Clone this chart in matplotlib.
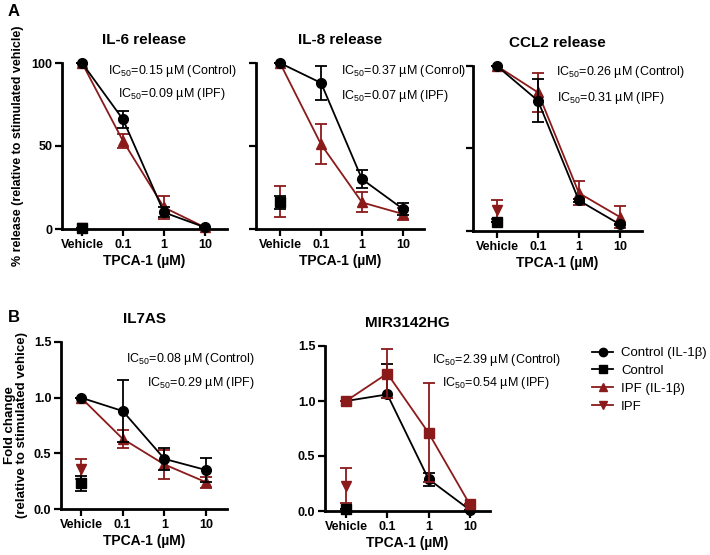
import matplotlib
matplotlib.use("Agg")
import matplotlib.pyplot as plt
from matplotlib.lines import Line2D

plt.rcParams['font.family'] = ['Liberation Sans', 'DejaVu Sans']
plt.rcParams['mathtext.fontset'] = 'custom'
plt.rcParams['mathtext.rm'] = 'Liberation Sans'
plt.rcParams['mathtext.it'] = 'Liberation Sans:italic'
plt.rcParams['mathtext.bf'] = 'Liberation Sans:bold'

RED = '#8b1a1a'

doses = ['Vehicle', '0.1', '1', '10']

# panel A: cytokine release (% of stimulated vehicle)
il6_ctrl = [100, 66, 10, 1]
il6_ctrl_err = [0, 5, 3, 0.5]
il6_ipf = [100, 53, 13, 1]
il6_ipf_err = [0, 4, 7, 0.5]
il6_ctrl_unstim, il6_ctrl_unstim_err = 0.5, 0
il6_ipf_unstim, il6_ipf_unstim_err = 0.5, 0

il8_ctrl = [100, 88, 30, 12]
il8_ctrl_err = [0, 10, 5.5, 3.5]
il8_ipf = [100, 51, 16, 9]
il8_ipf_err = [0, 12, 6, 3.5]
il8_ctrl_unstim, il8_ctrl_unstim_err = 16, 4
il8_ipf_unstim, il8_ipf_unstim_err = 16.5, 9.5

ccl2_ctrl = [100, 79, 18.5, 4]
ccl2_ctrl_err = [0, 13, 1, 0.5]
ccl2_ipf = [100, 84, 23, 8.5]
ccl2_ipf_err = [0, 12, 7.5, 6.5]
ccl2_ctrl_unstim, ccl2_ctrl_unstim_err = 5.5, 0
ccl2_ipf_unstim, ccl2_ipf_unstim_err = 13, 6

# panel B: lncRNA fold change
il7as_ctrl = [1.0, 0.88, 0.45, 0.35]
il7as_ctrl_err = [0, 0.28, 0.1, 0.11]
il7as_ipf = [1.0, 0.63, 0.40, 0.24]
il7as_ipf_err = [0, 0.08, 0.13, 0.05]
il7as_ctrl_unstim, il7as_ctrl_unstim_err = 0.23, 0.07
il7as_ipf_unstim, il7as_ipf_unstim_err = 0.36, 0.09

mir_ctrl = [1.0, 1.06, 0.29, 0.01]
mir_ctrl_err = [[0, 0.03, 0.06, 0], [0, 0.28, 0.06, 0]]
mir_ipf = [1.0, 1.25, 0.71, 0.06]
mir_ipf_err = [0, 0.22, 0.45, 0]
mir_ctrl_unstim, mir_ctrl_unstim_err = 0.015, 0
mir_ipf_unstim, mir_ipf_unstim_err = 0.23, 0.16

W, H = 710, 555
fig = plt.figure(figsize=(W / 100, H / 100), dpi=100)


def px_axes(left, top, right, bottom):
    return fig.add_axes([left / W, 1 - bottom / H, (right - left) / W, (bottom - top) / H])


def panel(ax, title, ctrl, ctrl_err, ipf, ipf_err, cu, cu_err, iu, iu_err,
          ylim, yticks, ylabels, xlim, ipf_marker='^', ipf_on_top=False):
    x = list(range(len(doses)))
    kw = dict(capsize=4, elinewidth=1.3, capthick=1.3, lw=1.3, ms=7, clip_on=False)
    z_ctrl, z_ipf = (3, 4) if ipf_on_top else (4, 3)
    ax.errorbar(x, ctrl, yerr=ctrl_err, fmt='-o', color='black', zorder=z_ctrl, **kw)
    ax.errorbar(x, ipf, yerr=ipf_err, fmt='-' + ipf_marker, color=RED, zorder=z_ipf, **kw)
    ax.errorbar([0], [iu], yerr=[iu_err], fmt='v', color=RED, zorder=3, **kw)
    ax.errorbar([0], [cu], yerr=[cu_err], fmt='s', color='black', zorder=4, **kw)
    ax.set_xlim(*xlim)
    ax.set_ylim(*ylim)
    ax.set_xticks(x)
    ax.set_xticklabels(doses, fontweight='bold', fontsize=9)
    ax.set_yticks(yticks)
    ax.set_yticklabels(ylabels, fontweight='bold', fontsize=9)
    for s in ['top', 'right']:
        ax.spines[s].set_visible(False)
    for s in ['left', 'bottom']:
        ax.spines[s].set_linewidth(2)
    ax.tick_params(width=1.6, length=5, pad=2)
    ax.set_xlabel('TPCA-1 (µM)', fontweight='bold', fontsize=10, labelpad=2)
    ax.set_title(title, fontweight='bold', fontsize=11, pad=14)


ax1 = px_axes(62, 63, 227, 229)
panel(ax1, 'IL-6 release', il6_ctrl, il6_ctrl_err, il6_ipf, il6_ipf_err,
      il6_ctrl_unstim, il6_ctrl_unstim_err, il6_ipf_unstim, il6_ipf_unstim_err,
      (0, 100), [0, 50, 100], ['0', '50', '100'], (-0.49, 3.54))
ax1.set_ylabel('% release (relative to stimulated vehicle)', fontweight='bold', fontsize=9, labelpad=5)

ax2 = px_axes(256, 63, 424, 229)
panel(ax2, 'IL-8 release', il8_ctrl, il8_ctrl_err, il8_ipf, il8_ipf_err,
      il8_ctrl_unstim, il8_ctrl_unstim_err, il8_ipf_unstim, il8_ipf_unstim_err,
      (0, 100), [0, 50, 100], ['', '', ''], (-0.585, 3.51))

ax3 = px_axes(473, 66, 642, 231)
panel(ax3, 'CCL2 release', ccl2_ctrl, ccl2_ctrl_err, ccl2_ipf, ccl2_ipf_err,
      ccl2_ctrl_unstim, ccl2_ctrl_unstim_err, ccl2_ipf_unstim, ccl2_ipf_unstim_err,
      (0, 100), [0, 50, 100], ['', '', ''], (-0.585, 3.54))

ax4 = px_axes(61, 342, 227, 509)
panel(ax4, 'IL7AS', il7as_ctrl, il7as_ctrl_err, il7as_ipf, il7as_ipf_err,
      il7as_ctrl_unstim, il7as_ctrl_unstim_err, il7as_ipf_unstim, il7as_ipf_unstim_err,
      (0, 1.5), [0, 0.5, 1.0, 1.5], ['0.0', '0.5', '1.0', '1.5'], (-0.48, 3.5))
ax4.set_ylabel('Fold change\n(relative to stimulated vehice)', fontweight='bold',
               fontsize=9.5, labelpad=4, linespacing=1.05)

ax5 = px_axes(325, 346, 490, 511)
panel(ax5, 'MIR3142HG', mir_ctrl, mir_ctrl_err, mir_ipf, mir_ipf_err,
      mir_ctrl_unstim, mir_ctrl_unstim_err, mir_ipf_unstim, mir_ipf_unstim_err,
      (0, 1.5), [0, 0.5, 1.0, 1.5], ['0.0', '0.5', '1.0', '1.5'], (-0.51, 3.49),
      ipf_marker='s', ipf_on_top=True)

# IC50 annotations (pixel positions)
def note(x, y, s, ha):
    fig.text(x / W, 1 - y / H, s, ha=ha, va='center', fontsize=9)

note(172, 71, r'IC$_{50}$=0.15 µM (Control)', 'center')
note(172, 94, r'IC$_{50}$=0.09 µM (IPF)', 'center')
note(341, 71, r'IC$_{50}$=0.37 µM (Conrol)', 'left')
note(341, 96, r'IC$_{50}$=0.07 µM (IPF)', 'left')
note(556, 72, r'IC$_{50}$=0.26 µM (Control)', 'left')
note(557, 98, r'IC$_{50}$=0.31 µM (IPF)', 'left')
note(255, 359, r'IC$_{50}$=0.08 µM (Control)', 'right')
note(255, 383, r'IC$_{50}$=0.29 µM (IPF)', 'right')
note(496, 360, r'IC$_{50}$=2.39 µM (Control)', 'center')
note(496, 383, r'IC$_{50}$=0.54 µM (IPF)', 'center')

fig.text(8 / W, 1 - 12 / H, 'A', fontweight='bold', fontsize=12, va='center')
fig.text(8 / W, 1 - 318 / H, 'B', fontweight='bold', fontsize=12, va='center')

handles = [
    Line2D([], [], color='black', marker='o', ms=6, lw=1.3),
    Line2D([], [], color='black', marker='s', ms=6, lw=1.3),
    Line2D([], [], color=RED, marker='^', ms=6, lw=1.3),
    Line2D([], [], color=RED, marker='v', ms=6, lw=1.3),
]
labels = ['Control (IL-1β)', 'Control', 'IPF (IL-1β)', 'IPF']
fig.legend(handles, labels, loc='upper left', bbox_to_anchor=(592 / W, 1 - 347 / H),
           frameon=False, fontsize=9.5, handlelength=1.6, handletextpad=0.6,
           labelspacing=0.42, borderaxespad=0, borderpad=0)

fig.savefig('out.png', dpi=100)
